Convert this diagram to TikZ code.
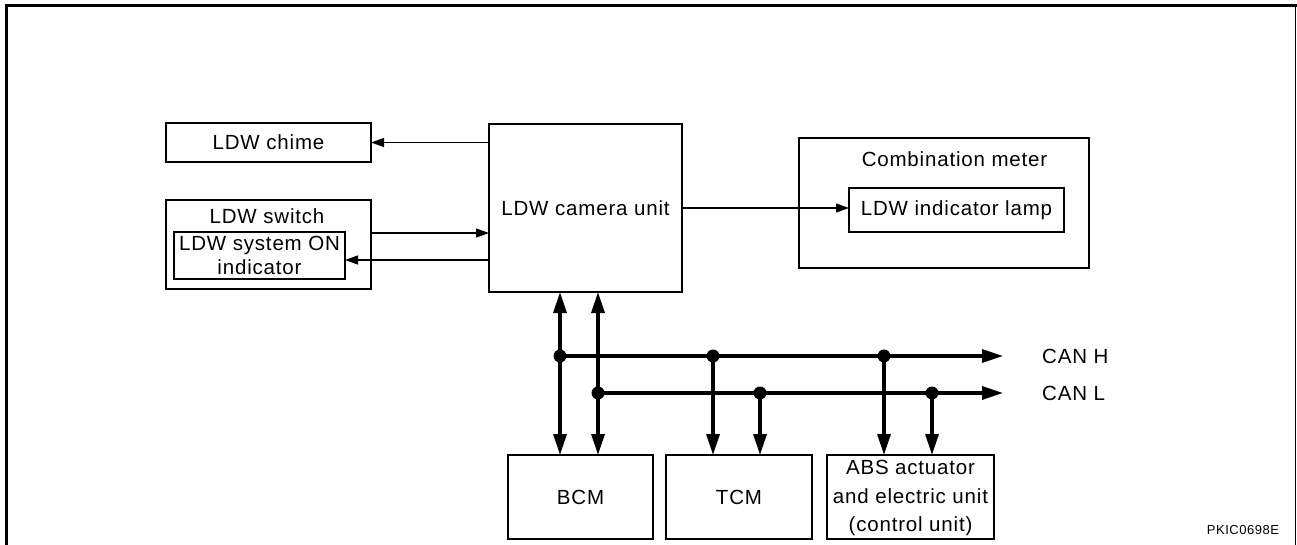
\documentclass[tikz,border=0pt]{standalone}
\usepackage{fontspec}
\setmainfont{Liberation Sans}[LetterSpace=4]
\usetikzlibrary{arrows.meta}
\begin{document}
\begin{tikzpicture}[x=1pt,y=-1pt,
  box/.style={draw,line width=1.3pt,inner sep=0pt,outer sep=0pt,align=center,font=\fontsize{20.5}{25}\selectfont},
  lbl/.style={inner sep=0pt,font=\fontsize{20.5}{25}\selectfont},
  thinarrow/.style={line width=1.3pt,-{Triangle[length=13pt,width=9pt]}},
  busarrow/.style={line width=3.3pt,-{Triangle[length=21pt,width=13pt]}},
  busdouble/.style={line width=3.3pt,{Triangle[length=21pt,width=13pt]}-{Triangle[length=21pt,width=13pt]}},
  dot/.style={circle,fill=black,inner sep=0pt,minimum size=13pt}
]
\useasboundingbox (0,0) rectangle (1297,545);
% frame
\draw[line width=3pt] (6.5,545) -- (6.5,5.5) -- (1297,5.5);
\draw[line width=1.3pt] (1295.5,5.5) -- (1295.5,545);

% boxes
\node[box,minimum width=205pt,minimum height=39pt] (chime) at (268.5,142.5) {LDW chime};
\node[box,minimum width=205pt,minimum height=89pt] (switch) at (268.5,244.5) {};
\node[lbl] (switchlbl) at (267,216) {LDW switch};
\node[box,minimum width=171pt,minimum height=47pt,font=\fontsize{20.5}{24.5}\selectfont] (indicator) at (259.5,255.5) {LDW system ON\\indicator};
\node[box,minimum width=193pt,minimum height=168pt] (camera) at (585.5,208) {LDW camera unit};
\node[box,minimum width=290pt,minimum height=130pt] (meter) at (944,203) {};
\node[lbl] (meterlbl) at (954.5,159) {Combination meter};
\node[box,minimum width=215pt,minimum height=44pt] (lamp) at (956.5,210) {LDW indicator lamp};
\node[box,minimum width=145pt,minimum height=84pt] (bcm) at (580.5,497) {BCM};
\node[box,minimum width=146pt,minimum height=84pt] (tcm) at (739,497) {TCM};
\node[box,minimum width=167pt,minimum height=84pt] (abs) at (910.5,497) {};
\node[inner sep=0pt,align=center,font=\fontsize{20.5}{28.5}\selectfont] (abstxt) at (910.5,498) {ABS actuator\\and electric unit\\(control unit)};

% labels
\node[lbl,anchor=west] (canh) at (1042,356) {CAN H};
\node[lbl,anchor=west] (canl) at (1042,393) {CAN L};
\node[inner sep=0pt,font=\fontsize{13}{15}\selectfont] (code) at (1243,530) {PKIC0698E};

% helper coordinates
\coordinate (hy) at (0,356);
\coordinate (ly) at (0,393);
\coordinate (b1) at (560,0);
\coordinate (b2) at (598,0);
\coordinate (t1) at (713,0);
\coordinate (t2) at (760,0);
\coordinate (a1) at (884,0);
\coordinate (a2) at (932,0);
\coordinate (hend) at (1003,356);
\coordinate (lend) at (1003,393);
\coordinate (y233) at (0,233);
\coordinate (y260) at (0,260);

% thin connectors
\draw[thinarrow] (camera.west |- chime) -- (chime.east);
\draw[thinarrow] (switch.east |- y233) -- (camera.west |- y233);
\draw[thinarrow] (camera.west |- y260) -- (indicator.east |- y260);
\draw[thinarrow] (camera.east) -- (lamp.west |- camera.east);

% bus
\draw[busarrow] (b1 |- hy) -- (hend);
\draw[busarrow] (b2 |- ly) -- (lend);
\draw[busdouble] (camera.south -| b1) -- (bcm.north -| b1);
\draw[busdouble] (camera.south -| b2) -- (bcm.north -| b2);
\draw[busarrow] (t1 |- hy) -- (tcm.north -| t1);
\draw[busarrow] (t2 |- ly) -- (tcm.north -| t2);
\draw[busarrow] (a1 |- hy) -- (abs.north -| a1);
\draw[busarrow] (a2 |- ly) -- (abs.north -| a2);

\node[dot] (d1) at (b1 |- hy) {};
\node[dot] (d2) at (b2 |- ly) {};
\node[dot] (d3) at (t1 |- hy) {};
\node[dot] (d4) at (t2 |- ly) {};
\node[dot] (d5) at (a1 |- hy) {};
\node[dot] (d6) at (a2 |- ly) {};
\end{tikzpicture}
\end{document}
